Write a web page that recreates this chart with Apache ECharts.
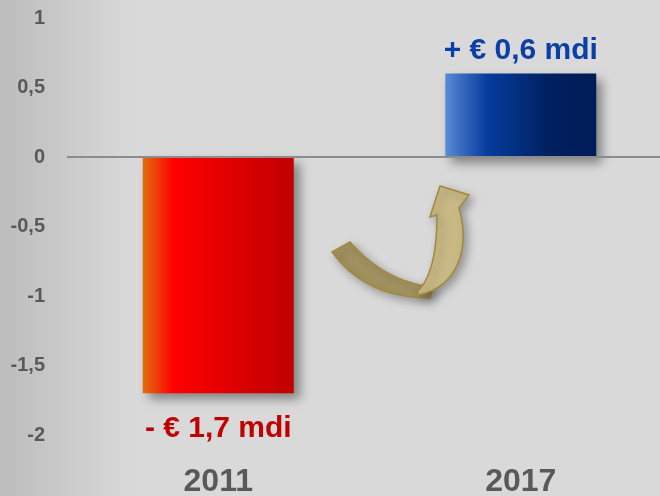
<!DOCTYPE html>
<html>
<head>
<meta charset="utf-8">
<script src="https://cdn.jsdelivr.net/npm/echarts@6/dist/echarts.min.js"></script>
<style>
	html, body { margin: 0; padding: 0; background: #d9d9d9; }
	#chart { width: 660px; height: 496px; }
</style>
</head>
<body>
<div id="chart"></div>
<script>
const years = ["2011", "2017"];
const deltas = [-1.7, 0.6];
const yTicks = { min: -2, max: 1, step: 0.5 };

const redFill = new echarts.graphic.LinearGradient(0, 0, 1, 0, [
	{ offset: 0, color: "#e36c09" },
	{ offset: 0.1, color: "#f03a08" },
	{ offset: 0.2, color: "#ff0000" },
	{ offset: 1, color: "#c00000" }
]);
const blueFill = new echarts.graphic.LinearGradient(0, 0, 1, 0, [
	{ offset: 0, color: "#5a8dd6" },
	{ offset: 0.1, color: "#3a6cc0" },
	{ offset: 0.28, color: "#063c9e" },
	{ offset: 0.7, color: "#00205e" },
	{ offset: 1, color: "#001c58" }
]);

// decorative curved arrow, sampled from bezier segments
function quad(p0, c, p1, n) {
	let pts = [];
	for (let i = 0; i <= n; i++) {
		let t = i / n, u = 1 - t;
		pts.push([u * u * p0[0] + 2 * u * t * c[0] + t * t * p1[0], u * u * p0[1] + 2 * u * t * c[1] + t * t * p1[1]]);
	}
	return pts;
}
function cubic(p0, c1, c2, p1, n) {
	let pts = [];
	for (let i = 0; i <= n; i++) {
		let t = i / n, u = 1 - t;
		pts.push([
			u * u * u * p0[0] + 3 * u * u * t * c1[0] + 3 * u * t * t * c2[0] + t * t * t * p1[0],
			u * u * u * p0[1] + 3 * u * u * t * c1[1] + 3 * u * t * t * c2[1] + t * t * t * p1[1]
		]);
	}
	return pts;
}
const arrowDark = [].concat(
	quad([350, 242], [385, 282], [433, 287], 16),
	quad([430, 298], [366, 298], [332, 252], 16)
);
const arrowLight = [].concat(
	quad([418, 291], [437, 272], [437, 215], 14),
	[[430, 217], [440, 186], [469, 195], [459, 208]],
	cubic([459, 208], [470, 245], [460, 287], [418, 295], 16)
);
const arrowShadow = { shadowBlur: 8, shadowOffsetX: 4, shadowOffsetY: 4, shadowColor: "rgba(0,0,0,0.3)" };

function fmtNum(v) {
	return String(v).replace(".", ",");
}

let chart = echarts.init(document.getElementById("chart"));
chart.setOption({
	animation: false,
	backgroundColor: "#d9d9d9",
	graphic: [
		{
			type: "rect",
			z: -10,
			silent: true,
			shape: { x: 0, y: 0, width: 660, height: 496 },
			style: {
				fill: new echarts.graphic.LinearGradient(0, 0, 1, 0, [
					{ offset: 0, color: "#bcbcbc" },
					{ offset: 0.2, color: "#d9d9d9" },
					{ offset: 1, color: "#d9d9d9" }
				])
			}
		},
		{
			type: "polygon",
			z: 5,
			shape: { points: arrowDark },
			style: Object.assign({ fill: "#a2925f", stroke: "#a08a3c", lineWidth: 1.5 }, arrowShadow)
		},
		{
			type: "polygon",
			z: 6,
			shape: { points: arrowLight },
			style: Object.assign({ fill: "#c8b985", stroke: "#a08a3c", lineWidth: 1.5 }, arrowShadow)
		}
	],
	grid: {
		left: 67,
		width: 605,
		top: 18,
		bottom: 61,
		outerBoundsMode: "none"
	},
	xAxis: {
		type: "category",
		data: years,
		axisLine: { show: false, onZero: false },
		axisTick: { show: false },
		axisLabel: {
			margin: 31,
			color: "#595959",
			fontFamily: "Liberation Sans, Arial, sans-serif",
			fontWeight: "bold",
			fontSize: 32
		}
	},
	yAxis: {
		type: "value",
		min: yTicks.min,
		max: yTicks.max,
		interval: yTicks.step,
		splitLine: { show: false },
		axisLine: { show: false },
		axisTick: { show: false },
		axisLabel: {
			margin: 22,
			color: "#595959",
			fontFamily: "Liberation Sans, Arial, sans-serif",
			fontWeight: "bold",
			fontSize: 20,
			formatter: fmtNum
		}
	},
	series: [
		{
			type: "bar",
			barWidth: 151,
			data: deltas.map(function (v) {
				return {
					value: v,
					itemStyle: {
						color: v < 0 ? redFill : blueFill,
						shadowBlur: 10,
						shadowOffsetX: 6,
						shadowOffsetY: 6,
						shadowColor: "rgba(0,0,0,0.4)"
					},
					label: {
						show: true,
						position: v < 0 ? "bottom" : "top",
						distance: v < 0 ? 20 : 8,
						color: v < 0 ? "#c00000" : "#0b3fa8",
						fontFamily: "Liberation Sans, Arial, sans-serif",
						fontWeight: "bold",
						fontSize: 30,
						formatter: function (p) {
							return (p.value < 0 ? "- " : "+ ") + "€ " + fmtNum(Math.abs(p.value)) + " mdi";
						}
					}
				};
			}),
			markLine: {
				silent: true,
				symbol: "none",
				label: { show: false },
				lineStyle: { color: "#8c8c8c", width: 2, type: "solid" },
				data: [{ yAxis: 0 }]
			}
		}
	]
});
</script>
</body>
</html>
